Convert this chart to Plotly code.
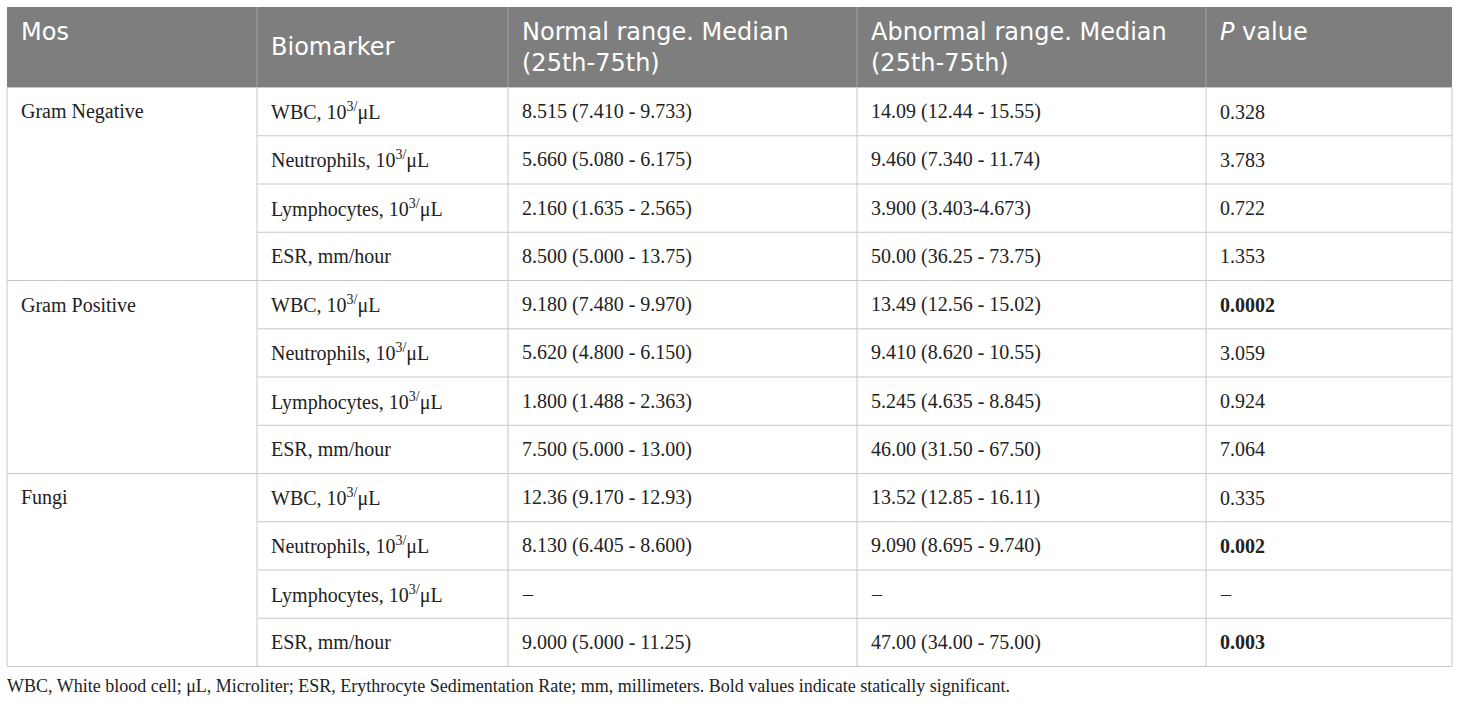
import plotly.graph_objects as go

# ---------------- data ----------------
header_lines = [
    ["Mos"],
    ["Biomarker"],
    ["Normal range. Median", "(25th-75th)"],
    ["Abnormal range. Median", "(25th-75th)"],
    ["<i>P</i> value"],
]
groups = ["Gram Negative", "Gram Positive", "Fungi"]
biomarkers = ["WBC, 10<sup>3/</sup>μL", "Neutrophils, 10<sup>3/</sup>μL",
              "Lymphocytes, 10<sup>3/</sup>μL", "ESR, mm/hour"]
normal_range = [
    "8.515 (7.410 - 9.733)", "5.660 (5.080 - 6.175)", "2.160 (1.635 - 2.565)", "8.500 (5.000 - 13.75)",
    "9.180 (7.480 - 9.970)", "5.620 (4.800 - 6.150)", "1.800 (1.488 - 2.363)", "7.500 (5.000 - 13.00)",
    "12.36 (9.170 - 12.93)", "8.130 (6.405 - 8.600)", "–", "9.000 (5.000 - 11.25)",
]
abnormal_range = [
    "14.09 (12.44 - 15.55)", "9.460 (7.340 - 11.74)", "3.900 (3.403-4.673)", "50.00 (36.25 - 73.75)",
    "13.49 (12.56 - 15.02)", "9.410 (8.620 - 10.55)", "5.245 (4.635 - 8.845)", "46.00 (31.50 - 67.50)",
    "13.52 (12.85 - 16.11)", "9.090 (8.695 - 9.740)", "–", "47.00 (34.00 - 75.00)",
]
p_values = ["0.328", "3.783", "0.722", "1.353",
            "0.0002", "3.059", "0.924", "7.064",
            "0.335", "0.002", "–", "0.003"]
significant = [False, False, False, False,
               True, False, False, False,
               False, True, False, True]
footnote = ("WBC, White blood cell; μL, Microliter; ESR, Erythrocyte Sedimentation Rate; "
            "mm, millimeters. Bold values indicate statically significant.")

# ---------------- layout constants ----------------
W, H = 1460, 705
COL_X = [7, 257, 508, 857, 1206, 1452]
TOP = 7
HEAD_BOT = 87.5
ROW_H = 48.25
PAD = 12
HEAD_FILL = "#7d7e7d"
HEAD_SEP = "#a3a3a3"
LINE = "#c8c8c8"
TEXT = "#222222"
HEAD_FONT = dict(family="DejaVu Sans", size=24, color="white")
BODY_FONT = dict(family="Liberation Serif", size=20, color=TEXT)

n_rows = len(groups) * len(biomarkers)
BOT = HEAD_BOT + n_rows * ROW_H

shapes = []
annotations = []

# header background
shapes.append(dict(type="rect", x0=COL_X[0], x1=COL_X[-1], y0=TOP, y1=HEAD_BOT,
                   fillcolor=HEAD_FILL, line=dict(width=0), layer="below"))
# header separators
for x in COL_X[1:-1]:
    shapes.append(dict(type="line", x0=x, x1=x, y0=TOP, y1=HEAD_BOT,
                       line=dict(color=HEAD_SEP, width=1)))

# header text
head_mid = (TOP + HEAD_BOT) / 2
LINE_GAP = 31.5
for ci, lines in enumerate(header_lines):
    if ci == 1:
        ys = [head_mid]
    else:
        ys = [head_mid - LINE_GAP / 2 + k * LINE_GAP for k in range(len(lines))]
    for txt, y in zip(lines, ys):
        annotations.append(dict(x=COL_X[ci] + PAD, y=y, text=txt, showarrow=False,
                                xanchor="left", yanchor="middle", font=HEAD_FONT))

# body horizontal lines
for r in range(n_rows + 1):
    y = HEAD_BOT + r * ROW_H
    x0 = COL_X[0] if r % len(biomarkers) == 0 else COL_X[1]
    shapes.append(dict(type="line", x0=x0, x1=COL_X[-1], y0=y, y1=y,
                       line=dict(color=LINE, width=1)))
# body vertical lines
for x in COL_X:
    shapes.append(dict(type="line", x0=x, x1=x, y0=HEAD_BOT, y1=BOT,
                       line=dict(color=LINE, width=1)))

# body text
for gi, g in enumerate(groups):
    y = HEAD_BOT + gi * len(biomarkers) * ROW_H + ROW_H / 2
    annotations.append(dict(x=COL_X[0] + PAD, y=y, text=g, showarrow=False,
                            xanchor="left", yanchor="middle", font=BODY_FONT))
for r in range(n_rows):
    y = HEAD_BOT + r * ROW_H + ROW_H / 2
    b = biomarkers[r % len(biomarkers)]
    p = f"<b>{p_values[r]}</b>" if significant[r] else p_values[r]
    for ci, txt in zip([1, 2, 3, 4], [b, normal_range[r], abnormal_range[r], p]):
        annotations.append(dict(x=COL_X[ci] + PAD, y=y, text=txt, showarrow=False,
                                xanchor="left", yanchor="middle", font=BODY_FONT))

# footnote
annotations.append(dict(x=COL_X[0] - 2, y=BOT + 19, text=footnote, showarrow=False,
                        xanchor="left", yanchor="middle",
                        font=dict(family="Liberation Serif", size=18, color=TEXT)))

fig = go.Figure()
fig.add_trace(go.Scatter(x=[0, W], y=[0, H], mode="markers",
                         marker=dict(opacity=0), hoverinfo="skip", showlegend=False))
fig.update_layout(
    width=W, height=H, margin=dict(l=0, r=0, t=0, b=0),
    paper_bgcolor="white", plot_bgcolor="white",
    xaxis=dict(range=[0, W], visible=False, fixedrange=True),
    yaxis=dict(range=[H, 0], visible=False, fixedrange=True),
    shapes=shapes, annotations=annotations, showlegend=False,
)
fig.write_html("out.html", config={"displayModeBar": False},
               post_script="document.body.style.margin='0';document.body.style.overflow='hidden';")
